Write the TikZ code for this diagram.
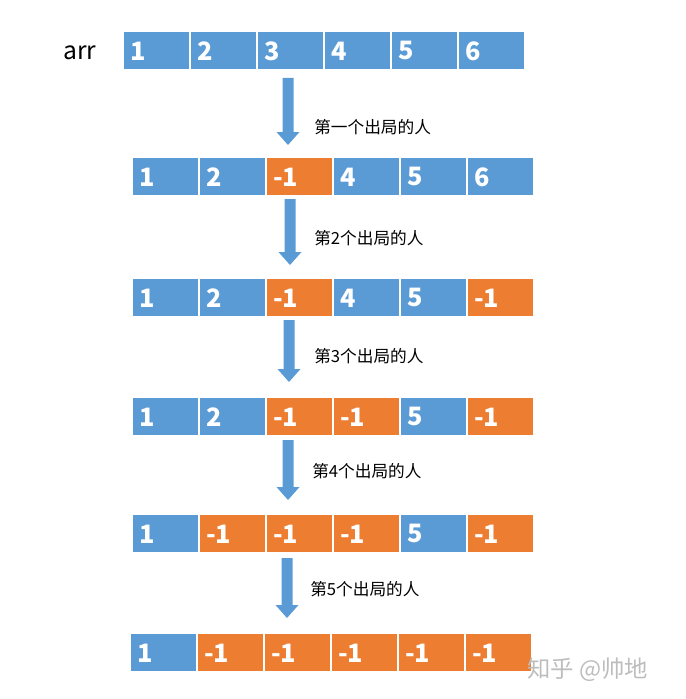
\documentclass[tikz,border=0pt]{standalone}
\usepackage{fontspec}
\setmainfont{Noto Sans CJK SC}
\newfontfamily\cjk{Noto Sans CJK SC}
\definecolor{cblue}{HTML}{5B9BD5}
\definecolor{corange}{HTML}{ED7D31}
\definecolor{wmgray}{HTML}{BDBDBD}
\tikzset{
  cellbox/.style={draw=white, line width=1.2pt, minimum width=67*0.75pt, minimum height=39*0.75pt, inner sep=0pt, anchor=north west},
  bluecell/.style={cellbox, fill=cblue},
  orangecell/.style={cellbox, fill=corange},
  celltext/.style={text=white, font=\fontsize{19}{21}\selectfont\bfseries, anchor=west, inner sep=0pt},
  steplabel/.style={font=\cjk\fontsize{12.5}{14}\selectfont, anchor=west, inner sep=0pt},
  blockarrow/.style={fill=cblue, draw=none}
}
\newcommand\cellrow[4]{% #1 name, #2 x, #3 y, #4 list of value/colour
  \foreach \v/\c [count=\i from 0] in {#4} {
    \node[\c cell] (#1c\i) at ({#2+67*\i},#3) {};
    \node[celltext] (#1t\i) at ([xshift=8*0.75pt,yshift=-0.5pt]#1c\i.west) {\v};
  }
}
\newcommand\barrow[4]{% #1 name, #2 x centre, #3 y top, #4 y tip
  \coordinate (#1top) at (#2,#3);
  \coordinate (#1tip) at (#2,#4);
  \fill[blockarrow] ([xshift=-5.5*0.75pt]#1top) -- ([xshift=5.5*0.75pt]#1top)
    -- ([xshift=5.5*0.75pt,yshift=13*0.75pt]#1tip) -- ([xshift=11.5*0.75pt,yshift=13*0.75pt]#1tip)
    -- (#1tip) -- ([xshift=-11.5*0.75pt,yshift=13*0.75pt]#1tip)
    -- ([xshift=-5.5*0.75pt,yshift=13*0.75pt]#1tip) -- cycle;
}
\begin{document}
\begin{tikzpicture}[x=0.75pt,y=-0.75pt]
\useasboundingbox (0,0) rectangle (685,699);
\node[font=\fontsize{18.5}{20}\selectfont, anchor=west, inner sep=0pt] (arr) at (63,53) {arr};
\cellrow{r0}{122}{30}{1/blue,2/blue,3/blue,4/blue,5/blue,6/blue}
\cellrow{r1}{131}{156}{1/blue,2/blue,-1/orange,4/blue,5/blue,6/blue}
\cellrow{r2}{131}{277}{1/blue,2/blue,-1/orange,4/blue,5/blue,-1/orange}
\cellrow{r3}{131}{396}{1/blue,2/blue,-1/orange,-1/orange,5/blue,-1/orange}
\cellrow{r4}{131}{513}{1/blue,-1/orange,-1/orange,-1/orange,5/blue,-1/orange}
\cellrow{r5}{129}{632}{1/blue,-1/orange,-1/orange,-1/orange,-1/orange,-1/orange}
\barrow{a1}{288}{78}{145}
\barrow{a2}{290}{199}{265}
\barrow{a3}{289}{320}{382}
\barrow{a4}{288}{440}{500}
\barrow{a5}{287}{558}{618}
\node[steplabel] (l1) at (314,127) {第一个出局的人};
\node[steplabel] (l2) at (314,238) {第2个出局的人};
\node[steplabel] (l3) at (314,356) {第3个出局的人};
\node[steplabel] (l4) at (312,471) {第4个出局的人};
\node[steplabel] (l5) at (310,589) {第5个出局的人};
\node[font=\cjk\fontsize{17.5}{19}\selectfont, text=wmgray, anchor=west, inner sep=0pt] (wm) at (527,670) {知乎 @帅地};
\end{tikzpicture}
\end{document}
